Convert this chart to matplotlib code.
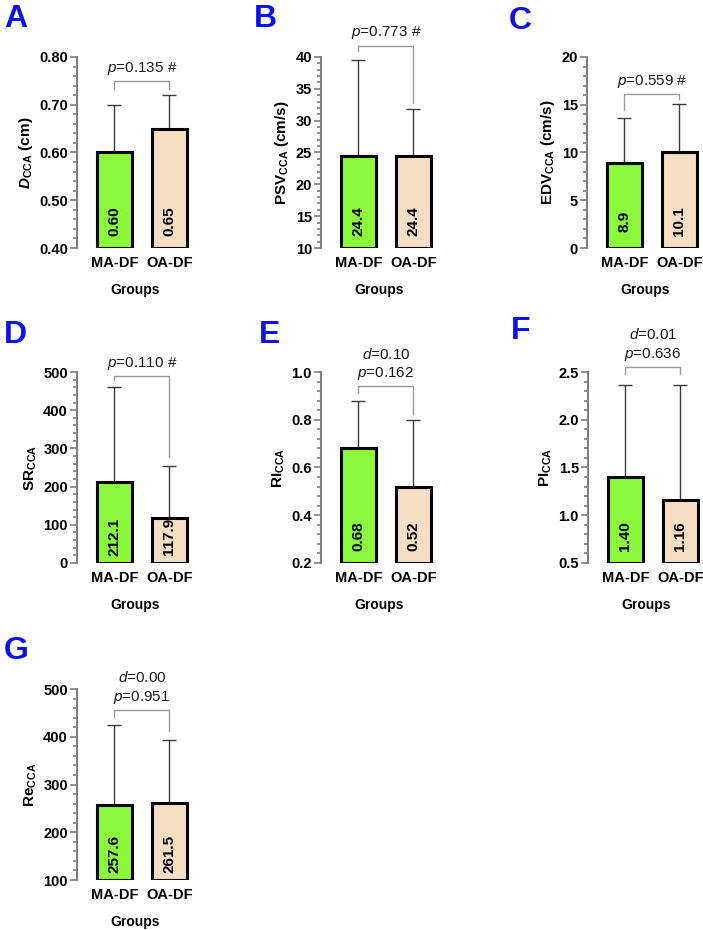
import matplotlib
matplotlib.use("Agg")
import matplotlib.pyplot as plt
from matplotlib.ticker import AutoMinorLocator, FormatStrFormatter, MultipleLocator

plt.rcParams['font.family'] = ['Liberation Sans', 'DejaVu Sans']
plt.rcParams['mathtext.fontset'] = 'custom'
plt.rcParams['mathtext.rm'] = 'Liberation Sans'
plt.rcParams['mathtext.bf'] = 'Liberation Sans:bold'
plt.rcParams['mathtext.sf'] = 'Liberation Sans:bold:italic'
plt.rcParams['mathtext.it'] = 'Liberation Sans:italic'

# ---------------- data ----------------
groups = ['MA-DF', 'OA-DF']
bar_colors = ['#8CFA3C', '#F5DEC2']

means_A = [0.60, 0.65]
sd_A = [0.10, 0.07]
means_B = [24.4, 24.4]
sd_B = [15.1, 7.4]
means_C = [8.9, 10.1]
sd_C = [4.7, 5.0]
means_D = [212.1, 117.9]
sd_D = [248.0, 136.0]
means_E = [0.68, 0.52]
sd_E = [0.20, 0.28]
means_F = [1.40, 1.16]
sd_F = [0.96, 1.20]
means_G = [257.6, 261.5]
sd_G = [166.0, 131.0]

stat_A = [r'$\mathit{p}$=0.135 #']
stat_B = [r'$\mathit{p}$=0.773 #']
stat_C = [r'$\mathit{p}$=0.559 #']
stat_D = [r'$\mathit{p}$=0.110 #']
stat_E = [r'$\mathit{d}$=0.10', r'$\mathit{p}$=0.162']
stat_F = [r'$\mathit{d}$=0.01', r'$\mathit{p}$=0.636']
stat_G = [r'$\mathit{d}$=0.00', r'$\mathit{p}$=0.951']

# ---------------- layout / styling ----------------
W, H = 703, 930
fig = plt.figure(figsize=(W / 100, H / 100), dpi=100)

panels = [
    dict(letter='A', means=means_A, sd=sd_A, stat=stat_A,
         ylabel=r'$\mathsf{D}_{\mathbf{CCA}}$ (cm)', ylim=(0.40, 0.80), major=0.10,
         tfmt='%.2f', vfmt='{:.2f}', br=(0.749, 0.734, 0.734),
         pos=(77, 57), letter_xy=(4, 4)),
    dict(letter='B', means=means_B, sd=sd_B, stat=stat_B,
         ylabel=r'$\mathbf{PSV}_{\mathbf{CCA}}$ (cm/s)', ylim=(10, 40), major=5,
         tfmt='%d', vfmt='{:.1f}', br=(41.8, 40.9, 32.7),
         pos=(321, 57), letter_xy=(254, 4)),
    dict(letter='C', means=means_C, sd=sd_C, stat=stat_C,
         ylabel=r'$\mathbf{EDV}_{\mathbf{CCA}}$ (cm/s)', ylim=(0, 20), major=5,
         tfmt='%d', vfmt='{:.1f}', br=(16.15, 14.4, 15.6),
         pos=(587, 57), letter_xy=(509, 6)),
    dict(letter='D', means=means_D, sd=sd_D, stat=stat_D,
         ylabel=r'$\mathbf{SR}_{\mathbf{CCA}}$', ylim=(0, 500), major=100,
         tfmt='%d', vfmt='{:.1f}', br=(488.7, 478, 278),
         pos=(77, 372), letter_xy=(4, 320)),
    dict(letter='E', means=means_E, sd=sd_E, stat=stat_E,
         ylabel=r'$\mathbf{RI}_{\mathbf{CCA}}$', ylim=(0.2, 1.0), major=0.2,
         tfmt='%.1f', vfmt='{:.2f}', br=(0.94, 0.912, 0.826),
         pos=(321, 372), letter_xy=(259, 320)),
    dict(letter='F', means=means_F, sd=sd_F, stat=stat_F,
         ylabel=r'$\mathbf{PI}_{\mathbf{CCA}}$', ylim=(0.5, 2.5), major=0.5,
         tfmt='%.1f', vfmt='{:.2f}', br=(2.55, 2.48, 2.48),
         pos=(588, 372), letter_xy=(511, 316)),
    dict(letter='G', means=means_G, sd=sd_G, stat=stat_G,
         ylabel=r'$\mathbf{Re}_{\mathbf{CCA}}$', ylim=(100, 500), major=100,
         tfmt='%d', vfmt='{:.1f}', br=(456.6, 441, 413),
         pos=(77, 689), letter_xy=(4, 636)),
]

ax_w_px, ax_h_px = 117, 191
spine_col = '#7f7f7f'
x = [0, 1]

for p in panels:
    lx, ty = p['pos']
    ax = fig.add_axes([lx / W, 1 - (ty + ax_h_px) / H, ax_w_px / W, ax_h_px / H])
    y0, y1 = p['ylim']
    heights = [m - y0 for m in p['means']]
    ax.bar(x, heights, bottom=y0, width=0.64, color=bar_colors,
           edgecolor='black', linewidth=2.2, zorder=3)
    ax.errorbar(x, p['means'], yerr=[[0, 0], p['sd']], fmt='none',
                ecolor='#3a3a3a', elinewidth=1.0, capsize=5, capthick=1.0,
                zorder=2)
    for xi, m in zip(x, p['means']):
        ax.annotate(p['vfmt'].format(m), xy=(xi, y0), xytext=(0, 19),
                    textcoords='offset points', rotation=90, ha='center',
                    va='center', fontsize=11, fontweight='bold', zorder=4)
    # bracket
    by, le, re_ = p['br']
    ax.plot([0, 0, 1, 1], [le, by, by, re_], color='#9a9a9a', lw=1.0,
            clip_on=False, zorder=1)
    txt = '\n'.join(p['stat'])
    ax.annotate(txt, xy=(0.5, by), xytext=(0, 3), textcoords='offset points',
                ha='center', va='bottom', fontsize=11, color='#1a1a1a',
                linespacing=1.3, annotation_clip=False)

    ax.set_xlim(-0.68, 1.45)
    ax.set_ylim(y0, y1)
    ax.yaxis.set_major_locator(MultipleLocator(p['major']))
    ax.yaxis.set_minor_locator(AutoMinorLocator(5))
    ax.yaxis.set_major_formatter(FormatStrFormatter(p['tfmt']))
    for s in ['top', 'right', 'bottom']:
        ax.spines[s].set_visible(False)
    ax.spines['left'].set_color(spine_col)
    ax.spines['left'].set_linewidth(1.5)
    ax.tick_params(axis='y', which='major', length=5, width=1.2,
                   color=spine_col, pad=1.5, labelsize=10.5)
    ax.tick_params(axis='y', which='minor', length=3, width=1.2,
                   color=spine_col)
    ax.set_xticks(x)
    ax.set_xticklabels(groups, fontweight='bold', fontsize=10.5)
    ax.tick_params(axis='x', length=0, pad=6)
    for lab in ax.get_yticklabels():
        lab.set_fontweight('bold')
    ax.set_xlabel('Groups', fontweight='bold', fontsize=10, labelpad=9)
    ax.set_ylabel(p['ylabel'], fontweight='bold', fontsize=11, labelpad=3)
    ax.patch.set_alpha(0)

    lxp, lyp = p['letter_xy']
    fig.text(lxp / W, 1 - lyp / H, p['letter'], fontsize=23, fontweight='bold',
             color='#0B10EE', ha='left', va='top')

fig.savefig('out.png', dpi=100)
